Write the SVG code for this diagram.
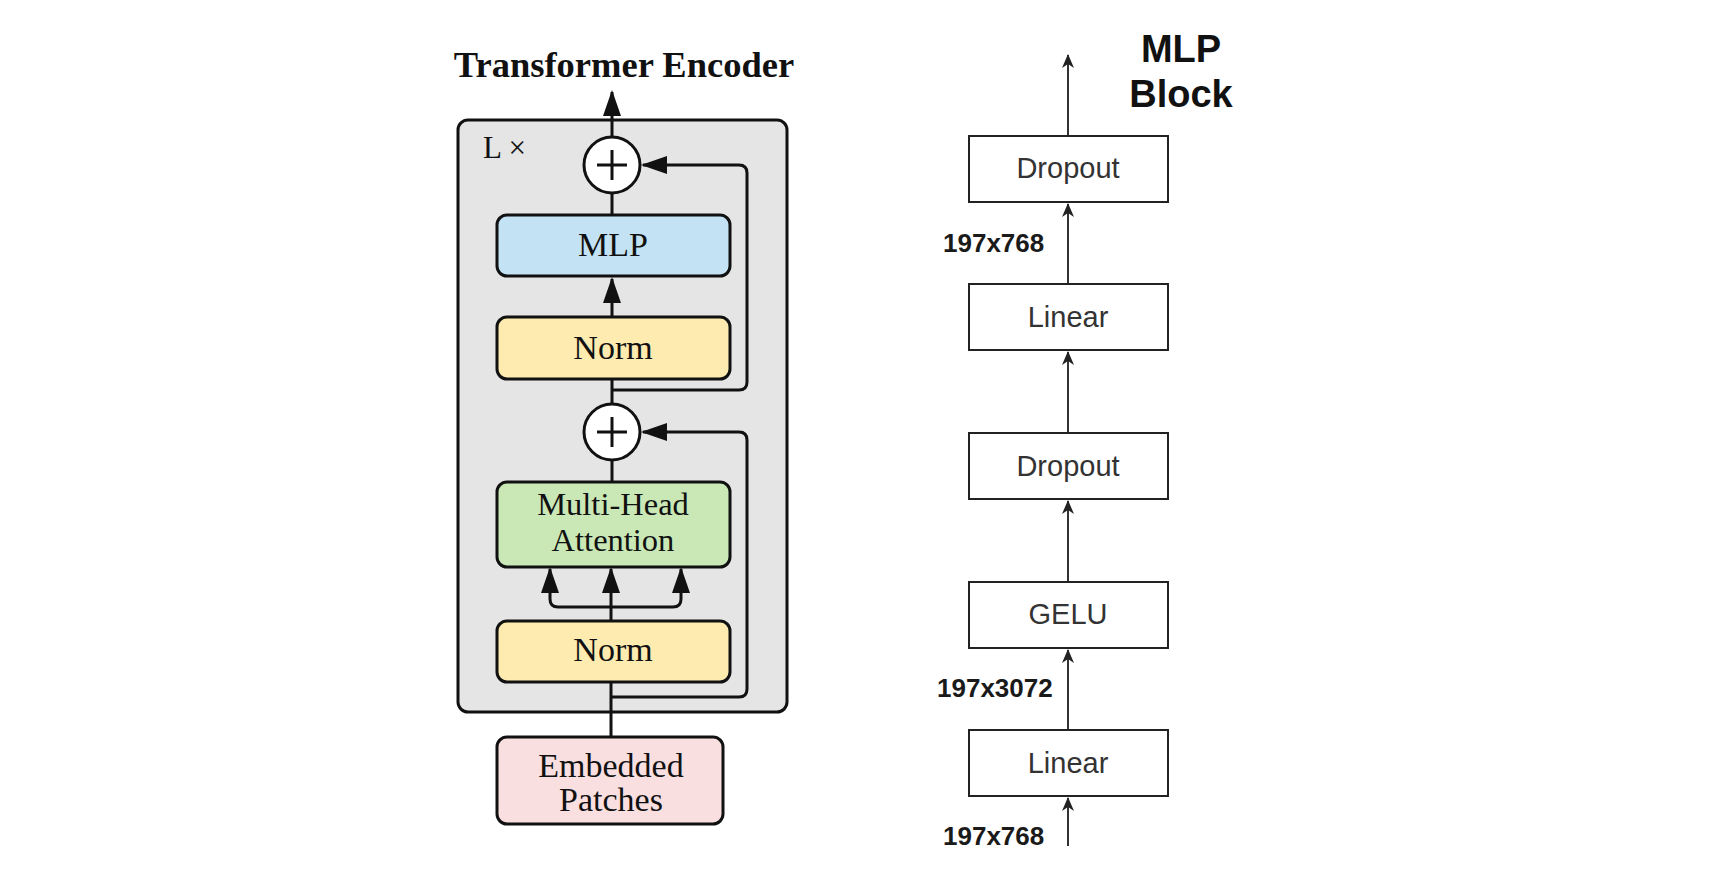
<svg xmlns="http://www.w3.org/2000/svg" width="1712" height="875" viewBox="0 0 1712 875">
<style>
.serif{font-family:"Liberation Serif","Times New Roman",serif;fill:#111;text-anchor:middle}
.sans{font-family:"Liberation Sans",Arial,sans-serif;fill:#333;text-anchor:middle}
.lbl{font-family:"Liberation Sans",Arial,sans-serif;fill:#1a1a1a;font-weight:bold;font-size:26px}
.blk{stroke:#111;stroke-width:3}
.conn{fill:none;stroke:#111;stroke-width:3}
.thin{fill:none;stroke:#333;stroke-width:2}
.rbox{fill:#fff;stroke:#222;stroke-width:2}
</style>
<defs>
<marker id="ah" viewBox="0 0 26 18" refX="24" refY="9" markerWidth="26" markerHeight="18" markerUnits="userSpaceOnUse" orient="auto">
<path d="M0,0 L26,9 L0,18 z" fill="#111"/>
</marker>
<marker id="ah2" viewBox="0 0 14 12" refX="13" refY="6" markerWidth="14" markerHeight="12" markerUnits="userSpaceOnUse" orient="auto">
<path d="M0,0 L14,6 L0,12 L4,6 z" fill="#222"/>
</marker>
</defs>
<rect width="1712" height="875" fill="#fff"/>

<g id="title"><text class="serif" x="624" y="77" font-size="36.5" font-weight="bold">Transformer Encoder</text></g>

<g id="encoder-block">
<rect x="458" y="120" width="329" height="592" rx="10" fill="#e5e5e5" class="blk"/>
<text x="483" y="158" font-family="Liberation Serif,serif" font-size="31" fill="#111">L ×</text>
</g>

<g id="connectors">
<path class="conn" d="M612,165 V92" marker-end="url(#ah)"/>
<path class="conn" d="M612,215 V193"/>
<path class="conn" d="M612,317 V279" marker-end="url(#ah)"/>
<path class="conn" d="M612,379 V404"/>
<path class="conn" d="M612,390 H739 Q747,390 747,382 V173 Q747,165 739,165 H643" marker-end="url(#ah)"/>
<path class="conn" d="M612,482 V460"/>
<path class="conn" d="M611,697 H739 Q747,697 747,689 V440 Q747,432 739,432 H643" marker-end="url(#ah)"/>
<path class="conn" d="M611,621 V569" marker-end="url(#ah)"/>
<path class="conn" d="M611,607 H558 Q550,607 550,599 V569" marker-end="url(#ah)"/>
<path class="conn" d="M611,607 H673 Q681,607 681,599 V569" marker-end="url(#ah)"/>
<path class="conn" d="M611,737 V682"/>

<path class="thin" d="M1068,136 V55" marker-end="url(#ah2)"/>
<path class="thin" d="M1068,284 V204" marker-end="url(#ah2)"/>
<path class="thin" d="M1068,433 V352" marker-end="url(#ah2)"/>
<path class="thin" d="M1068,582 V501" marker-end="url(#ah2)"/>
<path class="thin" d="M1068,730 V650" marker-end="url(#ah2)"/>
<path class="thin" d="M1068,846 V798" marker-end="url(#ah2)"/>
</g>

<g id="add1"><circle cx="612" cy="165" r="28" fill="#fff" class="blk"/><path d="M597,165 H627 M612,150 V180" stroke="#111" stroke-width="3"/></g>
<g id="mlp"><rect x="497" y="215" width="233" height="61" rx="10" fill="#c3e2f4" class="blk"/><text class="serif" x="613" y="256" font-size="34">MLP</text></g>
<g id="norm1"><rect x="497" y="317" width="233" height="62" rx="10" fill="#fdebb0" class="blk"/><text class="serif" x="613" y="359" font-size="34">Norm</text></g>
<g id="add2"><circle cx="612" cy="432" r="28" fill="#fff" class="blk"/><path d="M597,432 H627 M612,417 V447" stroke="#111" stroke-width="3"/></g>
<g id="mha"><rect x="497" y="482" width="233" height="85" rx="10" fill="#c9e8b5" class="blk"/><text class="serif" font-size="32.5"><tspan x="613" y="515">Multi-Head</tspan><tspan x="613" y="551">Attention</tspan></text></g>
<g id="norm2"><rect x="497" y="621" width="233" height="61" rx="10" fill="#fdebb0" class="blk"/><text class="serif" x="613" y="661" font-size="34">Norm</text></g>
<g id="embedded"><rect x="497" y="737" width="226" height="87" rx="10" fill="#f9dfe0" class="blk"/><text class="serif" font-size="34"><tspan x="611" y="777">Embedded</tspan><tspan x="611" y="811">Patches</tspan></text></g>

<g id="mlp-title"><text class="sans" x="1181" y="62" font-size="38" font-weight="bold" style="fill:#111">MLP</text><text class="sans" x="1181" y="107" font-size="38" font-weight="bold" style="fill:#111">Block</text></g>
<g id="dropout1"><rect x="969" y="136" width="199" height="66" class="rbox"/><text class="sans" x="1068" y="178" font-size="29">Dropout</text></g>
<g id="linear1"><rect x="969" y="284" width="199" height="66" class="rbox"/><text class="sans" x="1068" y="327" font-size="29">Linear</text></g>
<g id="dropout2"><rect x="969" y="433" width="199" height="66" class="rbox"/><text class="sans" x="1068" y="476" font-size="29">Dropout</text></g>
<g id="gelu"><rect x="969" y="582" width="199" height="66" class="rbox"/><text class="sans" x="1068" y="624" font-size="29">GELU</text></g>
<g id="linear2"><rect x="969" y="730" width="199" height="66" class="rbox"/><text class="sans" x="1068" y="773" font-size="29">Linear</text></g>

<g id="labels">
<text class="lbl" x="943" y="252">197x768</text>
<text class="lbl" x="937" y="697">197x3072</text>
<text class="lbl" x="943" y="845">197x768</text>
</g>
</svg>
